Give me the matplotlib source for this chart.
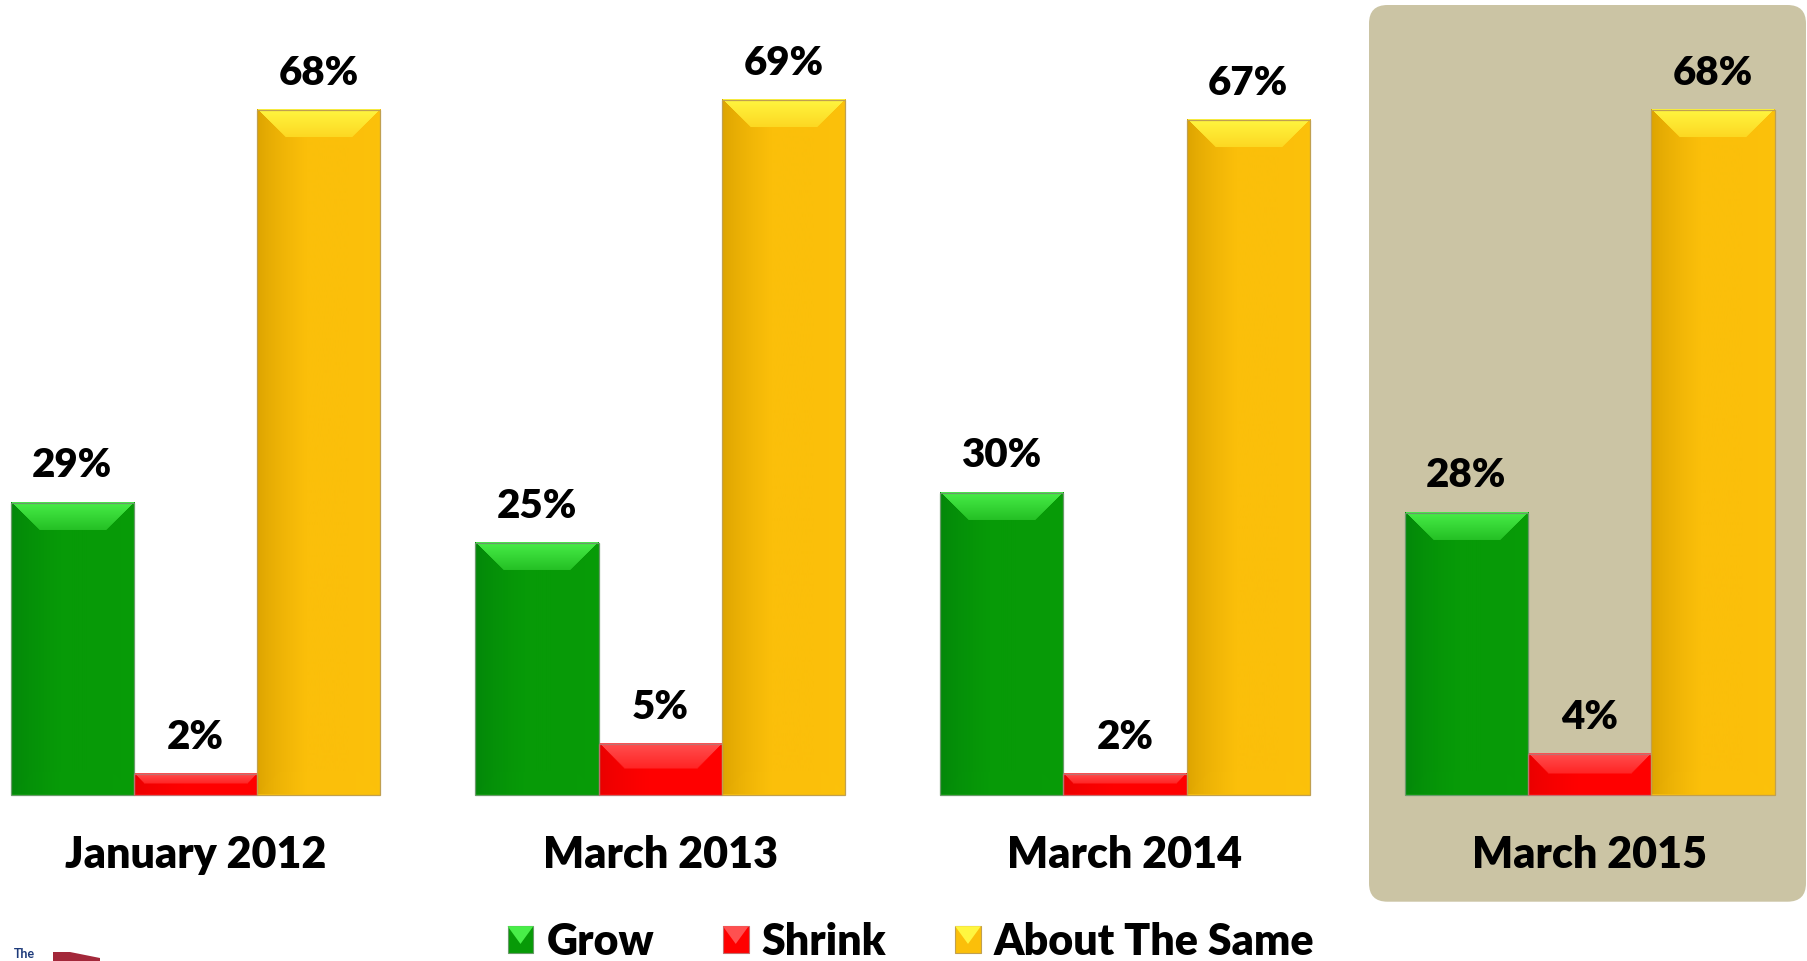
import numpy as np
import matplotlib.pyplot as plt
from matplotlib.colors import to_rgb
from matplotlib.legend_handler import HandlerBase
from matplotlib.patches import FancyBboxPatch, Polygon, Patch, Rectangle

CATEGORIES = ["January 2012", "March 2013", "March 2014", "March 2015"]
SERIES = ["Grow", "Shrink", "About The Same"]
GROW = [29, 25, 30, 28]
SHRINK = [2, 5, 2, 4]
SAME = [68, 69, 67, 68]

W, H, DPI = 1808, 961, 100
BAR_PX = 123.3      # pixels per bar width
PCT_PX = 10.06      # pixels per percentage point
STEP = 3.769        # group spacing in bar widths
X0 = -1.5856
Y0 = -166.5 / PCT_PX

# face, light (top bevel), dark (left side), edge
STYLES = [
    ("#079a07", "#48ee48", "#03860a", "#6a9a6a"),
    ("#ff0000", "#ff5050", "#e80000", "#c07070"),
    ("#fbbf0a", "#fff640", "#dba200", "#c0a050"),
]
BOX = "#cbc4a4"

plt.rcParams["font.family"] = ["Lato", "DejaVu Sans"]


def shade(ax, rect, face, light, dark):
    """Paint a bevelled face over a bar drawn by ax.bar."""
    x, y = rect.get_x(), rect.get_y()
    w, h = rect.get_width(), rect.get_height()
    wp = int(round(w * BAR_PX))
    hp = max(2, int(round(h * PCT_PX)))
    f, l, k = (np.array(to_rgb(c)) for c in (face, light, dark))
    u = np.arange(wp)[None, :] + 0.5
    v = np.arange(hp)[:, None] + 0.5
    d = min(28.0, hp / 2)
    s = np.clip(u / (0.4 * wp), 0, 1) ** 0.7
    img = np.broadcast_to(k + (f - k) * s[..., None], (hp, wp, 3)).copy()
    # right side a touch lighter
    r = np.clip((u - 0.75 * wp) / (0.25 * wp), 0, 1)[..., None]
    img = img * (1 - 0.15 * r) + np.minimum(f * 1.08, 1) * 0.15 * r
    top = (v < d) & (v < u) & (v < wp - u)
    t = np.clip(v / d, 0, 1)[..., None]
    mid = f * 0.55 + l * 0.45
    topcol = np.broadcast_to(l + (mid - l) * t, (hp, wp, 3))
    img = np.where(top[..., None], topcol, img)
    bot = (hp - v < d * 0.8) & (hp - v < u) & (hp - v < wp - u)
    img = np.where(bot[..., None], img * 0.97 + np.minimum(f * 1.1, 1) * 0.03, img)
    ax.imshow(img, extent=(x, x + w, y, y + h), origin="upper",
              aspect="auto", interpolation="bilinear", zorder=2.5)


class BevelHandler(HandlerBase):
    def __init__(self, face, light, edge):
        super().__init__()
        self.face, self.light, self.edge = face, light, edge

    def create_artists(self, legend, orig_handle, xdescent, ydescent,
                       width, height, fontsize, trans):
        x0, y0 = -xdescent, -ydescent
        sq = Rectangle((x0, y0), width, height, fc=self.face, ec=self.edge,
                       lw=0.8, transform=trans)
        tri = Polygon([(x0, y0 + height), (x0 + width, y0 + height),
                       (x0 + width / 2, y0 + height * 0.35)], closed=True,
                      fc=self.light, lw=0, transform=trans)
        return [sq, tri]


fig = plt.figure(figsize=(W / DPI, H / DPI), dpi=DPI)
ax = fig.add_axes([0, 0, 1, 1])
ax.axis("off")

# shaded box behind the latest survey
bx0 = 1369 / BAR_PX + X0
bx1 = 1806 / BAR_PX + X0
by1 = (H - 5) / PCT_PX + Y0
by0 = (H - 901.7) / PCT_PX + Y0
ax.add_patch(FancyBboxPatch((bx0, by0), bx1 - bx0, by1 - by0,
                            boxstyle="round,pad=0,rounding_size=0.15",
                            mutation_aspect=BAR_PX / PCT_PX,
                            fc=BOX, ec="none", zorder=0))

centers = [i * STEP for i in range(len(CATEGORIES))]
for j, vals in enumerate([GROW, SHRINK, SAME]):
    face, light, dark, edge = STYLES[j]
    xs = [c + (j - 1) for c in centers]
    bars = ax.bar(xs, vals, width=1, color=face, linewidth=0, zorder=2)
    for rect in bars:
        shade(ax, rect, face, light, dark)
        ax.add_patch(Rectangle(rect.get_xy(), rect.get_width(),
                               rect.get_height(), fill=False, ec=edge,
                               lw=0.9, zorder=3))
    for xc, v in zip(xs, vals):
        ax.annotate(f"{v}%", (xc, v), xytext=(0, 26.6),
                    textcoords="offset points", ha="center", va="center",
                    fontsize=29, fontweight="heavy", color="black", zorder=4)

for c, name in zip(centers, CATEGORIES):
    ax.text(c, -6.0, name, ha="center", va="center", fontsize=31,
            fontweight="heavy", color="black", zorder=4)

ax.set_xlim(X0, X0 + W / BAR_PX)
ax.set_ylim(Y0, Y0 + H / PCT_PX)

handles = [Patch(facecolor=s[0]) for s in STYLES]
hmap = {h: BevelHandler(s[0], s[1], s[3]) for h, s in zip(handles, STYLES)}
fig.legend(handles, SERIES, loc="center", bbox_to_anchor=(911 / W, 19 / H),
           ncol=3, frameon=False, handler_map=hmap,
           prop={"weight": "heavy", "size": 31},
           handlelength=0.6, handleheight=0.6, handletextpad=0.3,
           columnspacing=1.6, borderaxespad=0, borderpad=0)

# partial logo at the bottom-left corner
fig.text(14 / W, 1 / H, "The", color="#1d3a7a", fontsize=9,
         fontweight="bold", ha="left", va="bottom")
fig.patches.append(Polygon([(53 / W, 0), (53 / W, 9 / H), (70 / W, 9 / H),
                            (100 / W, 3 / H), (100 / W, 0)], closed=True,
                           transform=fig.transFigure, color="#a3283a", lw=0))

fig.savefig("out.png", dpi=DPI)
